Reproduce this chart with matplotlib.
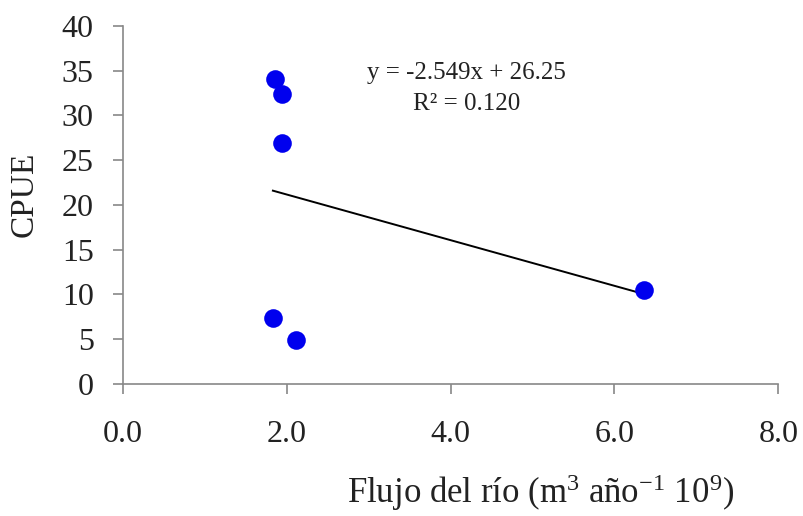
import matplotlib
matplotlib.use("Agg")
import matplotlib.pyplot as plt
import numpy as np

plt.rcParams['font.family'] = ['Liberation Serif', 'DejaVu Serif']
plt.rcParams['mathtext.fontset'] = 'custom'
plt.rcParams['mathtext.rm'] = 'Liberation Serif'
plt.rcParams['mathtext.it'] = 'Liberation Serif:italic'

# data
flujo = [1.86, 1.94, 1.94, 1.83, 2.11, 6.36]
cpue = [34.1, 32.4, 26.9, 7.4, 4.9, 10.5]

# trend line as printed on the chart
slope = -2.549
intercept = 26.25
r2 = 0.120

x_ticks = [0, 2, 4, 6, 8]
y_ticks = [0, 5, 10, 15, 20, 25, 30, 35, 40]

fig = plt.figure(figsize=(8.04, 5.16), dpi=100)
ax = fig.add_axes([0.153, 0.256, 0.815, 0.694])

ax.scatter(flujo, cpue, s=180, color='#0000ee', zorder=3, linewidths=0)

xs = np.array([min(flujo), max(flujo)])
ax.plot(xs, slope * xs + intercept, color='black', lw=1.4, zorder=2)

ax.set_xlim(0, 8)
ax.set_ylim(0, 40)
ax.set_xticks(x_ticks)
ax.set_xticklabels(['%.1f' % v for v in x_ticks])
ax.set_yticks(y_ticks)

for side in ['top', 'right']:
    ax.spines[side].set_visible(False)
for side in ['left', 'bottom']:
    ax.spines[side].set_color('#888888')
    ax.spines[side].set_linewidth(1.2)

ax.tick_params(axis='x', direction='out', length=7, width=1.2, color='#888888',
               pad=19, labelsize=23, labelcolor='#222222')
ax.tick_params(axis='y', direction='out', length=7, width=1.2, color='#888888',
               pad=14, labelsize=23, labelcolor='#222222')

ax.set_ylabel('CPUE', fontsize=24, color='#222222', va='center')
ax.yaxis.set_label_coords(-0.15, 0.53)
ax.set_xlabel('Flujo del río (m$^{3}$ año$^{\\mathrm{-1}}$ 10$^{9}$)', fontsize=25,
              color='#222222', va='center')
ax.xaxis.set_label_coords(0.637, -0.305)

eq = 'y = %.3fx + %.2f\nR² = %.3f' % (slope, intercept, r2)
ax.text(0.524, 0.90, eq, transform=ax.transAxes, ha='center', va='top',
        fontsize=18, color='#222222', multialignment='center', linespacing=1.55)

fig.savefig('out.png', dpi=100)
